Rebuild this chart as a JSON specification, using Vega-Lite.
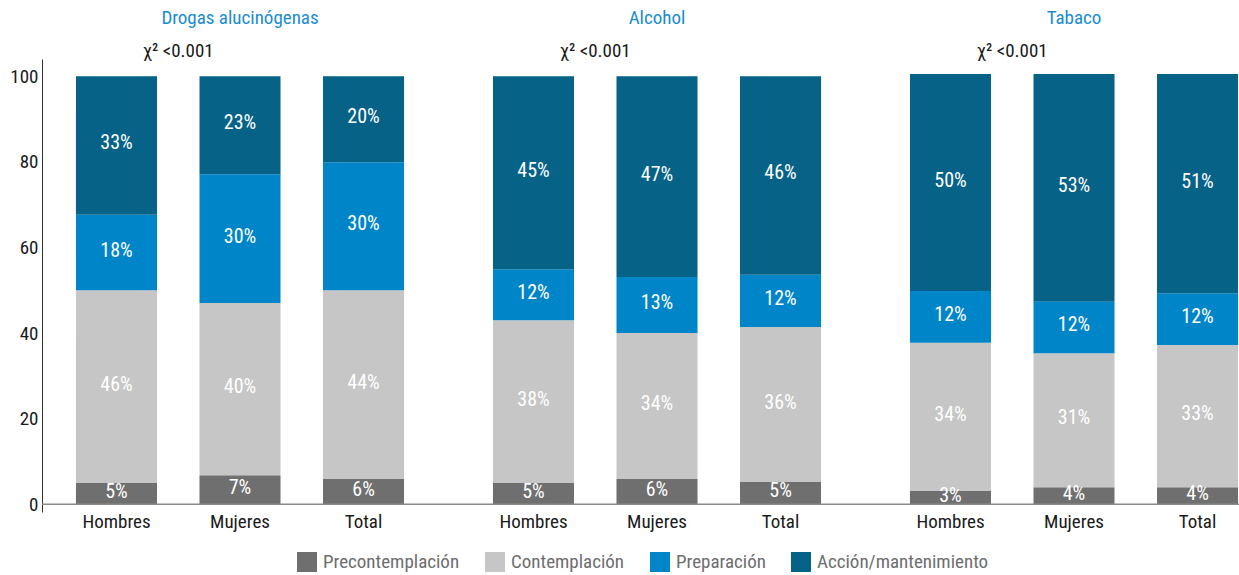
{
  "$schema": "https://vega.github.io/schema/vega-lite/v6.json",
  "autosize": {"type": "none"},
  "padding": {"left": 42, "top": 59, "right": 0, "bottom": 63},
  "width": 1197,
  "height": 453,
  "config": {
    "view": {"stroke": null},
    "font": "Liberation Sans Narrow, Roboto Condensed, Arial Narrow, Liberation Sans, sans-serif"
  },
  "datasets": {
    "main": [
      {"group": "Drogas alucinógenas", "sex": "Hombres", "stage": "Precontemplación", "value": 5.0, "label": "5%"},
      {"group": "Drogas alucinógenas", "sex": "Hombres", "stage": "Contemplación", "value": 45.0, "label": "46%"},
      {"group": "Drogas alucinógenas", "sex": "Hombres", "stage": "Preparación", "value": 17.6, "label": "18%"},
      {"group": "Drogas alucinógenas", "sex": "Hombres", "stage": "Acción/mantenimiento", "value": 32.4, "label": "33%"},
      {"group": "Drogas alucinógenas", "sex": "Mujeres", "stage": "Precontemplación", "value": 6.8, "label": "7%"},
      {"group": "Drogas alucinógenas", "sex": "Mujeres", "stage": "Contemplación", "value": 40.2, "label": "40%"},
      {"group": "Drogas alucinógenas", "sex": "Mujeres", "stage": "Preparación", "value": 30.1, "label": "30%"},
      {"group": "Drogas alucinógenas", "sex": "Mujeres", "stage": "Acción/mantenimiento", "value": 22.9, "label": "23%"},
      {"group": "Drogas alucinógenas", "sex": "Total", "stage": "Precontemplación", "value": 5.9, "label": "6%"},
      {"group": "Drogas alucinógenas", "sex": "Total", "stage": "Contemplación", "value": 44.1, "label": "44%"},
      {"group": "Drogas alucinógenas", "sex": "Total", "stage": "Preparación", "value": 29.9, "label": "30%"},
      {"group": "Drogas alucinógenas", "sex": "Total", "stage": "Acción/mantenimiento", "value": 20.1, "label": "20%"},
      {"group": "Alcohol", "sex": "Hombres", "stage": "Precontemplación", "value": 5.0, "label": "5%"},
      {"group": "Alcohol", "sex": "Hombres", "stage": "Contemplación", "value": 38.0, "label": "38%"},
      {"group": "Alcohol", "sex": "Hombres", "stage": "Preparación", "value": 11.9, "label": "12%"},
      {"group": "Alcohol", "sex": "Hombres", "stage": "Acción/mantenimiento", "value": 45.1, "label": "45%"},
      {"group": "Alcohol", "sex": "Mujeres", "stage": "Precontemplación", "value": 5.9, "label": "6%"},
      {"group": "Alcohol", "sex": "Mujeres", "stage": "Contemplación", "value": 34.1, "label": "34%"},
      {"group": "Alcohol", "sex": "Mujeres", "stage": "Preparación", "value": 13.1, "label": "13%"},
      {"group": "Alcohol", "sex": "Mujeres", "stage": "Acción/mantenimiento", "value": 46.9, "label": "47%"},
      {"group": "Alcohol", "sex": "Total", "stage": "Precontemplación", "value": 5.2, "label": "5%"},
      {"group": "Alcohol", "sex": "Total", "stage": "Contemplación", "value": 36.2, "label": "36%"},
      {"group": "Alcohol", "sex": "Total", "stage": "Preparación", "value": 12.2, "label": "12%"},
      {"group": "Alcohol", "sex": "Total", "stage": "Acción/mantenimiento", "value": 46.4, "label": "46%"},
      {"group": "Tabaco", "sex": "Hombres", "stage": "Precontemplación", "value": 3.1, "label": "3%"},
      {"group": "Tabaco", "sex": "Hombres", "stage": "Contemplación", "value": 34.6, "label": "34%"},
      {"group": "Tabaco", "sex": "Hombres", "stage": "Preparación", "value": 12.1, "label": "12%"},
      {"group": "Tabaco", "sex": "Hombres", "stage": "Acción/mantenimiento", "value": 50.7, "label": "50%"},
      {"group": "Tabaco", "sex": "Mujeres", "stage": "Precontemplación", "value": 4.0, "label": "4%"},
      {"group": "Tabaco", "sex": "Mujeres", "stage": "Contemplación", "value": 31.3, "label": "31%"},
      {"group": "Tabaco", "sex": "Mujeres", "stage": "Preparación", "value": 12.0, "label": "12%"},
      {"group": "Tabaco", "sex": "Mujeres", "stage": "Acción/mantenimiento", "value": 53.2, "label": "53%"},
      {"group": "Tabaco", "sex": "Total", "stage": "Precontemplación", "value": 4.0, "label": "4%"},
      {"group": "Tabaco", "sex": "Total", "stage": "Contemplación", "value": 33.2, "label": "33%"},
      {"group": "Tabaco", "sex": "Total", "stage": "Preparación", "value": 12.1, "label": "12%"},
      {"group": "Tabaco", "sex": "Total", "stage": "Acción/mantenimiento", "value": 51.2, "label": "51%"}
    ],
    "groups": [
      {"group": "Drogas alucinógenas", "p": "χ² <0.001"},
      {"group": "Alcohol", "p": "χ² <0.001"},
      {"group": "Tabaco", "p": "χ² <0.001"}
    ]
  },
  "layer": [
    {
      "data": {"name": "main"},
      "transform": [
        {"calculate": "indexof(['Precontemplación','Contemplación','Preparación','Acción/mantenimiento'], datum.stage)", "as": "k"},
        {"stack": "value", "groupby": ["group", "sex"], "sort": [{"field": "k", "order": "ascending"}], "as": ["v0", "v1"]},
        {"calculate": "(datum.v0 + datum.v1) / 2", "as": "mid"}
      ],
      "layer": [
        {
          "mark": {"type": "bar"},
          "encoding": {
            "x": {"field": "group", "type": "nominal", "scale": {"domain": ["Drogas alucinógenas", "Alcohol", "Tabaco"], "range": [0, 1251], "paddingInner": 0, "paddingOuter": 0}, "axis": null},
            "xOffset": {"field": "sex", "type": "nominal", "scale": {"domain": ["Hombres", "Mujeres", "Total"], "paddingInner": 0.344, "paddingOuter": 0.36, "align": 0.382}},
            "y": {"field": "v0", "type": "quantitative", "scale": {"domain": [-1.8, 104], "nice": false, "zero": false},
                  "axis": {"values": [0, 20, 40, 60, 80, 100], "ticks": false, "grid": false, "title": null, "labelFontSize": 19, "labelColor": "#1a1a1a", "labelPadding": 4, "domainColor": "#333333", "domainWidth": 1}},
            "y2": {"field": "v1"},
            "color": {"field": "stage", "type": "nominal",
                      "scale": {"domain": ["Precontemplación", "Contemplación", "Preparación", "Acción/mantenimiento"], "range": ["#6f6f6f", "#c6c6c6", "#0085c8", "#066286"]},
                      "legend": {"title": null, "orient": "none", "legendX": 255, "legendY": 493, "direction": "horizontal", "symbolType": "square", "symbolSize": 400, "symbolStrokeWidth": 0, "symbolOpacity": 1, "labelFontSize": 19, "labelColor": "#6d6d6d", "labelOffset": 6, "columnPadding": 25, "labelLimit": 300}}
          }
        },
        {
          "mark": {"type": "text", "color": "white", "fontSize": 20, "baseline": "middle", "align": "center", "dy": -2},
          "encoding": {
            "x": {"field": "group", "type": "nominal"},
            "xOffset": {"field": "sex", "type": "nominal"},
            "y": {"field": "mid", "type": "quantitative"},
            "text": {"field": "label"}
          }
        }
      ]
    },
    {
      "data": {"name": "main"},
      "transform": [{"filter": "datum.stage === 'Contemplación'"}],
      "mark": {"type": "text", "fontSize": 19, "color": "#1a1a1a", "baseline": "middle", "align": "center"},
      "encoding": {
        "x": {"field": "group", "type": "nominal"},
        "xOffset": {"field": "sex", "type": "nominal"},
        "y": {"datum": -4.1, "type": "quantitative"},
        "text": {"field": "sex"}
      }
    },
    {
      "data": {"values": [{}]},
      "mark": {"type": "rule", "color": "#8a8a8a", "strokeWidth": 1.5},
      "encoding": {"y": {"datum": 0, "type": "quantitative"}}
    },
    {
      "data": {"name": "groups"},
      "layer": [
        {
          "mark": {"type": "text", "fontSize": 19, "color": "#1a8cd0", "baseline": "middle", "align": "center"},
          "encoding": {
            "x": {"field": "group", "type": "nominal"},
            "xOffset": {"datum": "Mujeres"},
            "y": {"datum": 113.6, "type": "quantitative"},
            "text": {"field": "group"}
          }
        },
        {
          "mark": {"type": "text", "fontSize": 19, "color": "#1a1a1a", "baseline": "middle", "align": "center", "dx": 61.75},
          "encoding": {
            "x": {"field": "group", "type": "nominal"},
            "xOffset": {"datum": "Hombres"},
            "y": {"datum": 105.9, "type": "quantitative"},
            "text": {"field": "p"}
          }
        }
      ]
    }
  ]
}
